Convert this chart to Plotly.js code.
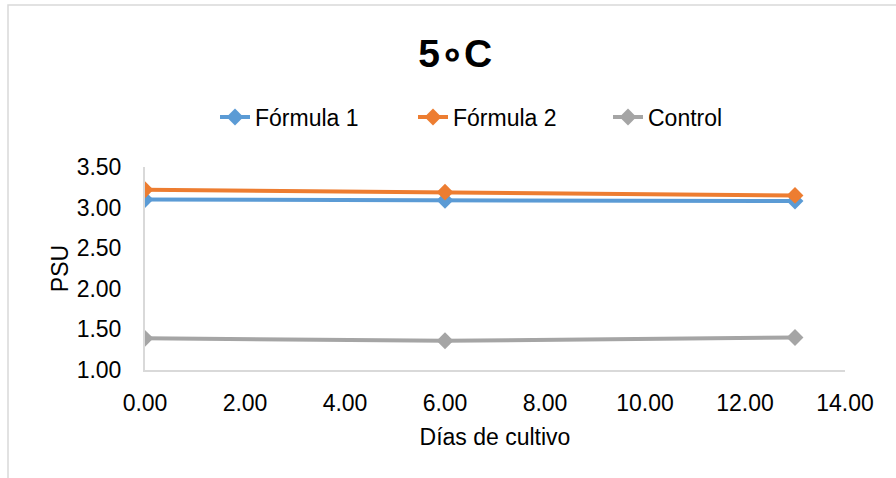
<!DOCTYPE html>
<html>
<head>
<meta charset="utf-8">
<script src="https://cdn.plot.ly/plotly-3.0.1.min.js"></script>
<style>html,body{margin:0;padding:0;background:#fff;}</style>
</head>
<body>
<div id="chart" style="width:896px;height:478px;"></div>
<script>
const dias = [0, 6, 13];
const formula1 = [3.10, 3.09, 3.08];
const formula2 = [3.22, 3.19, 3.15];
const control = [1.39, 1.36, 1.40];
const seriesNames = ["Fórmula 1", "Fórmula 2", "Control"];
const xTicks = [0, 2, 4, 6, 8, 10, 12, 14];
const yTicks = [1.0, 1.5, 2.0, 2.5, 3.0, 3.5];

const colors = ["#5B9BD5", "#ED7D31", "#A5A5A5"];
const legendIds = ["legend", "legend2", "legend3"];
const ys = [formula1, formula2, control];
const traces = ys.map((y, i) => ({
  x: dias, y: y, name: seriesNames[i], type: "scatter", mode: "lines+markers",
  legend: legendIds[i],
  line: {color: colors[i], width: 4},
  marker: {symbol: "diamond", size: 13, color: colors[i]}
}));

const font = "Liberation Sans, Arial, sans-serif";
const fs = 23;
function leg(px) {
  return {orientation: "h", x: (px - 145) / 700, xanchor: "left", y: 1.246, yanchor: "middle",
          bgcolor: "rgba(0,0,0,0)", font: {family: font, size: fs, color: "#000"}};
}
const layout = {
  width: 896, height: 478,
  margin: {l: 145, r: 51, t: 167, b: 108},
  paper_bgcolor: "#fff", plot_bgcolor: "#fff",
  font: {family: font, size: fs, color: "#000"},
  title: {text: "<b>5∘C</b>", font: {family: font, size: 39, color: "#000"},
          x: 0.508, xanchor: "center", y: 1 - 53/478, yanchor: "middle", yref: "container"},
  showlegend: true,
  legend: leg(215), legend2: leg(413), legend3: leg(608),
  xaxis: {range: [0, 14], tickvals: xTicks, ticktext: xTicks.map(v => v.toFixed(2)),
          showgrid: false, zeroline: false, showline: true, linecolor: "#d9d9d9", linewidth: 2,
          ticks: "", ticklabelstandoff: 11, tickfont: {family: font, size: fs, color: "#000"},
          title: {text: "Días de cultivo", font: {family: font, size: fs, color: "#000"}, standoff: 14}},
  yaxis: {range: [1, 3.5], tickvals: yTicks, ticktext: yTicks.map(v => v.toFixed(2)),
          showgrid: false, zeroline: false, showline: true, linecolor: "#d9d9d9", linewidth: 2,
          ticks: "", ticklabelstandoff: 17, tickfont: {family: font, size: fs, color: "#000"},
          title: {text: "PSU", font: {family: font, size: fs, color: "#000"}, standoff: 2}},
  shapes: [{type: "rect", xref: "paper", yref: "paper",
            x0: (8 - 145) / 700, x1: (905 - 145) / 700,
            y0: (370 - 490) / 203, y1: (370 - 5) / 203,
            line: {color: "#d9d9d9", width: 1.5}, fillcolor: "rgba(0,0,0,0)", layer: "below"}]
};

Plotly.newPlot("chart", traces, layout, {displayModeBar: false, staticPlot: true});
</script>
</body>
</html>
